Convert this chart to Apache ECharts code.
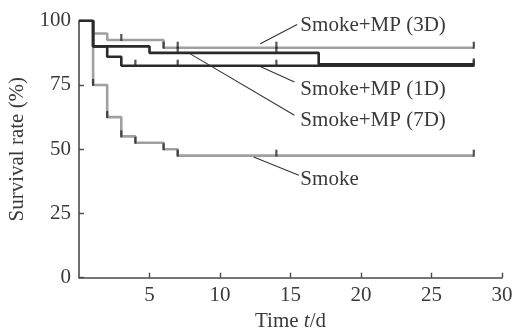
<!DOCTYPE html>
<html><head><meta charset="utf-8">
<script src="https://cdn.jsdelivr.net/npm/echarts@6/dist/echarts.min.js"></script>
<style>html,body{margin:0;padding:0;background:#fff}#c{width:513px;height:331px}</style>
</head><body><div id="c"></div>
<script>
// Kaplan-Meier step data (time in days, survival %)
const smokeT = [0, 1, 2, 3, 4, 6, 7, 28];
const smokeS = [100, 75, 62.5, 55, 52.5, 50, 47.5, 47.5];
const mp3T = [0, 1, 2, 6, 28];
const mp3S = [100, 95, 92.5, 89.5, 89.5];
const mp1T = [0, 1, 2, 3, 28];
const mp1S = [100, 90, 86, 82.5, 82.5];
const mp7T = [0, 1, 5, 17, 28];
const mp7S = [100, 90, 87.5, 83, 83];
// censor marks (times)
const smokeC = [1, 2, 3, 4, 6, 7, 14, 28];
const mp3C = [3, 6, 7, 14, 28];
const mp1C = [4, 7, 14, 28];
const mp7C = [7, 14, 28];
const xTicks = [0, 5, 10, 15, 20, 25, 30];
const yTicks = [0, 25, 50, 75, 100];
// annotation labels: name, leader start [t,S], leader end [t,S]
const labelNames = ['Smoke+MP (3D)', 'Smoke+MP (1D)', 'Smoke+MP (7D)', 'Smoke'];
const leaderFrom = [[12.86, 91.0], [12.81, 82.3], [7.89, 87.1], [12.39, 47.0]];
const leaderTo = [[15.47, 98.5], [15.28, 76.1], [15.28, 63.2], [15.59, 39.9]];
const labelAt = [[15.7, 98.2], [15.7, 73.4], [15.7, 61.2], [15.7, 38.4]];

const FONT = 'Liberation Serif';
const GRAY = '#a0a0a0', DARK = '#2a2a2a', AX = '#4a4a4a', TXT = '#3a3a3a';

function pairs(t, s) { return t.map((v, i) => [v, s[i]]); }
function survAt(t, s, x) { let v = s[0]; for (let i = 0; i < t.length; i++) if (t[i] <= x) v = s[i]; return v; }
function marks(t, s, c) { return c.map(x => [x, survAt(t, s, x)]); }

const lineSeries = (name, t, s, color, z) => ({
  type: 'line', name, step: 'end', data: pairs(t, s), symbol: 'none', z,
  lineStyle: { color, width: 2.6 }, animation: false
});
const markSeries = (t, s, c) => ({
  type: 'scatter', data: marks(t, s, c), symbol: 'rect', symbolSize: [2.2, 7],
  symbolOffset: [0, -2.5], itemStyle: { color: DARK }, z: 5, animation: false, silent: true
});

const chart = echarts.init(document.getElementById('c'), null, { renderer: 'canvas' });
chart.setOption({
  backgroundColor: '#fff',
  animation: false,
  grid: { left: 79, right: 11, top: 20.7, bottom: 53.3, containLabel: false, outerBoundsMode: 'none' },
  xAxis: {
    type: 'value', min: xTicks[0], max: xTicks[xTicks.length - 1], interval: 5,
    axisLine: { lineStyle: { color: AX, width: 1.6 } },
    axisTick: { inside: true, length: 5, lineStyle: { color: AX, width: 1.4 } },
    splitLine: { show: false },
    axisLabel: { showMinLabel: false, margin: 7, fontFamily: FONT, fontSize: 21, color: TXT },
    name: '{a|Time }{b|t}{a|/d}', nameLocation: 'middle', nameGap: 33,
    nameTextStyle: { rich: {
      a: { fontFamily: FONT, fontSize: 21, color: TXT },
      b: { fontFamily: FONT, fontSize: 21, color: TXT, fontStyle: 'italic' } } }
  },
  yAxis: {
    type: 'value', min: yTicks[0], max: yTicks[yTicks.length - 1], interval: 25,
    axisLine: { show: true, lineStyle: { color: AX, width: 1.6 } },
    axisTick: { show: true, inside: true, length: 5, lineStyle: { color: AX, width: 1.4 } },
    splitLine: { show: false },
    axisLabel: { margin: 8, fontFamily: FONT, fontSize: 21, color: TXT },
    name: 'Survival rate (%)', nameLocation: 'middle', nameGap: 51, nameRotate: 90,
    nameTextStyle: { fontFamily: FONT, fontSize: 21, color: TXT }
  },
  series: [
    lineSeries('Smoke', smokeT, smokeS, GRAY, 2),
    lineSeries('Smoke+MP (3D)', mp3T, mp3S, GRAY, 2),
    lineSeries('Smoke+MP (7D)', mp7T, mp7S, DARK, 3),
    lineSeries('Smoke+MP (1D)', mp1T, mp1S, DARK, 3),
    markSeries(smokeT, smokeS, smokeC),
    markSeries(mp3T, mp3S, mp3C),
    markSeries(mp1T, mp1S, mp1C),
    markSeries(mp7T, mp7S, mp7C)
  ]
});

const graphic = [];
labelNames.forEach((n, i) => {
  const a = chart.convertToPixel({ gridIndex: 0 }, leaderFrom[i]);
  const b = chart.convertToPixel({ gridIndex: 0 }, leaderTo[i]);
  const p = chart.convertToPixel({ gridIndex: 0 }, labelAt[i]);
  graphic.push({ type: 'line', shape: { x1: a[0], y1: a[1], x2: b[0], y2: b[1] },
    style: { stroke: '#333', lineWidth: 1.1 }, z: 10 });
  graphic.push({ type: 'text', x: p[0], y: p[1],
    style: { text: n, fontFamily: FONT, fontSize: 21, fill: TXT, textAlign: 'left', textVerticalAlign: 'middle' }, z: 10 });
});
chart.setOption({ graphic });
</script>
</body></html>
